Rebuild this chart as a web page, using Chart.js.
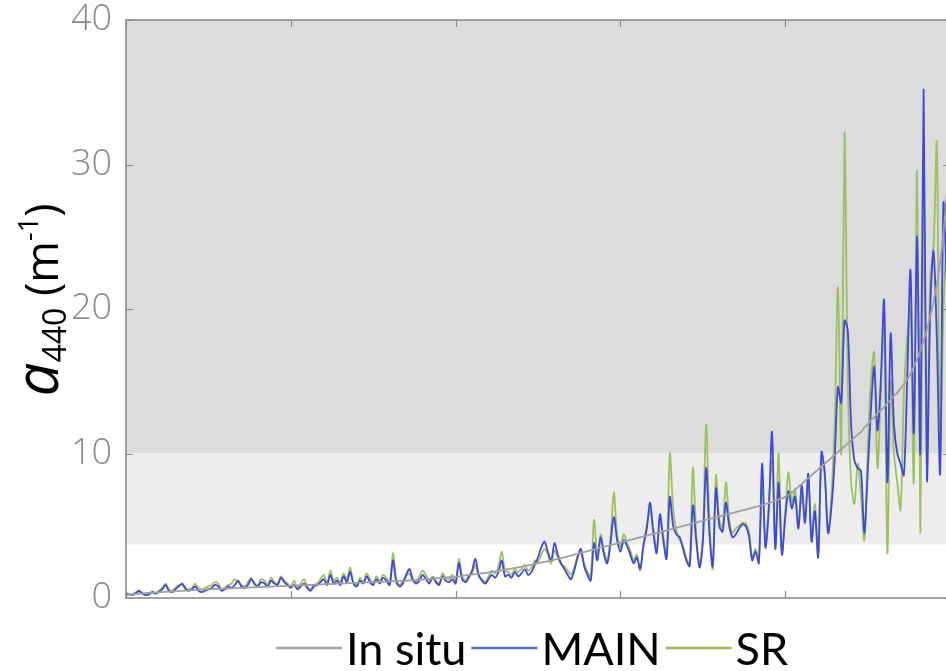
<!DOCTYPE html>
<html><head><meta charset="utf-8">
<script src="https://cdn.jsdelivr.net/npm/chart.js@4/dist/chart.umd.min.js"></script>
<style>html,body{margin:0;padding:0;background:#fff;overflow:hidden;width:946px;height:671px}
#wrap{position:relative;width:946px;height:671px;overflow:hidden}
canvas{display:block}</style></head>
<body><div id="wrap"><canvas id="c" width="956" height="671"></canvas></div>
<script>
// ---- data ----
const insitu = [
0.20,0.22,0.25,0.27,0.30,0.32,0.33,0.35,0.36,0.38,
0.40,0.41,0.43,0.44,0.45,0.47,0.48,0.50,0.51,0.52,
0.54,0.55,0.56,0.58,0.59,0.60,0.61,0.62,0.63,0.64,
0.65,0.66,0.67,0.68,0.69,0.70,0.71,0.72,0.73,0.74,
0.75,0.76,0.77,0.78,0.79,0.80,0.81,0.82,0.83,0.84,
0.85,0.86,0.87,0.88,0.89,0.90,0.91,0.92,0.93,0.94,
0.95,0.96,0.97,0.98,0.99,1.00,1.01,1.02,1.03,1.04,
1.05,1.06,1.07,1.08,1.09,1.10,1.11,1.12,1.13,1.14,
1.15,1.16,1.17,1.18,1.19,1.20,1.21,1.22,1.24,1.26,
1.28,1.30,1.32,1.34,1.36,1.38,1.40,1.42,1.44,1.46,
1.48,1.50,1.53,1.56,1.59,1.62,1.65,1.68,1.71,1.74,
1.77,1.80,1.84,1.88,1.92,1.96,2.00,2.04,2.08,2.12,
2.16,2.20,2.25,2.30,2.35,2.40,2.45,2.50,2.55,2.60,
2.65,2.70,2.76,2.82,2.88,2.94,3.00,3.06,3.12,3.18,
3.24,3.30,3.36,3.42,3.48,3.54,3.60,3.66,3.72,3.78,
3.84,3.90,3.96,4.02,4.08,4.14,4.20,4.26,4.32,4.38,
4.44,4.50,4.56,4.62,4.68,4.74,4.80,4.86,4.92,4.98,
5.04,5.10,5.16,5.22,5.28,5.34,5.40,5.46,5.52,5.58,
5.64,5.70,5.76,5.82,5.88,5.94,6.00,6.06,6.12,6.18,
6.24,6.30,6.36,6.42,6.50,6.58,6.66,6.74,6.82,6.90,
7.00,7.15,7.30,7.50,7.70,7.90,8.10,8.30,8.50,8.70,
8.90,9.10,9.30,9.50,9.70,9.90,10.1,10.3,10.5,10.7,
10.9,11.1,11.3,11.5,11.8,12.0,12.3,12.5,12.8,13.0,
13.2,13.5,13.7,14.0,14.2,14.5,14.8,15.1,15.5,16.0,
16.5,17.1,17.8,18.6,19.5,20.5,21.7,23.2,25.2,28.0
];
const mainSeries = [
0.3,0.25,0.2,0.35,0.5,0.3,0.2,0.25,0.4,0.3,
0.45,0.6,0.9,0.5,0.4,0.6,0.8,1.0,0.7,0.5,
0.6,0.8,0.5,0.4,0.5,0.6,0.7,0.9,0.8,0.5,
0.6,0.8,0.7,0.9,1.2,0.8,0.7,0.9,1.3,1.0,
0.8,1.1,1.0,0.8,1.2,1.0,0.9,1.4,1.1,0.9,
0.7,0.9,0.6,0.8,1.0,0.7,0.5,0.8,0.9,1.1,
1.3,0.9,1.6,1.0,1.2,0.9,1.5,1.1,1.8,1.0,
0.8,1.2,1.0,1.5,1.1,0.9,1.3,1.0,1.4,1.2,
0.9,2.6,1.1,0.8,1.0,1.6,2.0,1.3,1.0,1.2,
1.6,1.3,1.0,1.4,1.1,0.9,1.5,1.2,1.1,1.3,
1.0,2.4,1.3,1.1,1.4,1.9,2.7,1.6,1.2,1.0,
1.3,1.6,1.4,1.8,2.6,1.5,1.6,1.4,1.8,1.5,
1.7,2.0,1.6,1.8,2.3,2.8,3.5,3.9,3.2,2.6,
3.8,3.0,2.4,2.0,1.6,1.3,1.9,2.8,3.4,2.2,
1.6,1.2,3.8,2.6,4.2,3.0,2.4,3.8,5.6,4.0,
3.2,4.0,3.6,3.0,2.4,2.8,2.0,3.6,4.8,6.6,
4.5,3.1,5.8,4.0,2.7,7.0,5.0,4.4,4.2,3.4,
2.6,2.2,6.4,4.0,2.1,3.8,9.0,4.5,2.2,7.6,
5.0,4.6,6.6,5.0,4.2,4.4,4.8,5.1,5.0,4.3,
2.6,3.2,2.4,9.3,3.5,6.0,11.5,3.4,8.0,3.0,
5.5,7.4,6.2,7.0,4.8,7.8,5.2,8.6,3.9,6.0,
2.8,10.1,8.7,4.5,6.2,9.5,14.6,13.5,19.2,18.5,
12.0,9.5,9.0,8.8,4.5,8.5,13.0,16.0,11.6,15.0,
20.6,8.0,18.3,12.0,10.0,9.3,8.5,15.0,22.7,11.4,
25.0,10.0,35.2,8.2,20.0,24.0,18.0,8.6,27.3,22.0
];
const srSeries = [
0.35,0.2,0.25,0.4,0.45,0.35,0.25,0.3,0.45,0.3,
0.5,0.7,1.0,0.6,0.5,0.7,0.9,0.9,0.6,0.6,
0.7,1.0,0.7,0.6,0.7,0.8,0.9,1.1,1.0,0.6,
0.7,0.9,1.0,1.3,1.1,0.9,0.8,1.1,1.4,0.9,
0.9,1.3,1.2,0.9,1.4,1.1,1.0,1.5,1.2,1.0,
0.8,1.2,0.7,1.0,1.3,0.8,0.6,0.9,1.0,1.3,
1.6,1.0,1.9,1.2,1.4,1.1,1.7,1.3,2.1,1.1,
0.9,1.4,1.1,1.7,1.3,1.0,1.5,1.2,1.6,1.4,
1.0,3.1,1.3,0.9,1.2,1.5,1.7,1.2,1.1,1.5,
1.9,1.6,1.2,1.5,1.2,1.0,1.7,1.4,1.3,1.6,
1.1,2.7,1.5,1.2,1.6,1.7,2.3,1.5,1.3,1.1,
1.5,1.9,1.7,2.2,3.2,1.9,1.8,1.6,2.0,1.8,
2.0,2.3,1.9,2.1,2.6,2.5,3.0,3.4,3.0,2.4,
3.3,2.8,2.3,2.2,1.9,1.6,2.1,2.9,3.1,2.4,
1.8,1.5,5.4,3.0,4.4,3.3,2.6,4.2,7.3,4.4,
3.5,4.4,3.8,3.3,2.6,3.0,1.9,3.8,5.0,6.0,
4.8,3.3,5.4,4.3,2.9,10.0,6.2,4.6,4.0,3.6,
2.8,2.3,9.0,4.5,2.4,4.2,12.0,5.5,2.0,8.5,
5.4,4.9,8.0,5.5,4.5,4.8,5.0,5.2,5.2,4.6,
2.8,3.4,2.6,8.0,3.8,6.5,9.5,3.6,10.0,3.2,
6.0,8.7,6.6,7.5,5.0,7.0,5.5,8.2,4.2,6.5,
3.0,9.6,8.4,4.5,7.0,12.0,21.5,10.0,32.2,15.0,
8.0,6.5,9.3,7.0,4.0,10.0,15.0,17.0,9.0,14.0,
19.0,3.1,15.0,10.0,8.0,6.1,14.0,18.0,20.0,8.0,
29.6,4.5,28.0,9.0,22.0,24.3,31.5,10.0,20.0,25.0
];
const yTicks = [0, 10, 20, 30, 40];
const xTicks = [0, 50, 100, 150, 200, 250];
const bandLevels = [3.7, 10];
const legendLabels = ['In situ', 'MAIN', 'SR'];
const seriesColors = ['#a0a0a0', '#3f48d8', '#9dc15e'];
const legendColors = ['#a6a6a6', '#4472c4', '#9bbb59'];

const toXY = arr => arr.map((v, i) => ({x: i, y: v}));

const boxPlugin = {
  id: 'box',
  beforeDatasetsDraw(chart) {
    const {ctx, chartArea: a, scales: {y}} = chart;
    ctx.save();
    const y10 = y.getPixelForValue(bandLevels[1]);
    const y37 = y.getPixelForValue(bandLevels[0]);
    ctx.fillStyle = '#dcdcdc';
    ctx.fillRect(a.left, a.top, a.right - a.left, y10 - a.top);
    ctx.fillStyle = '#ededed';
    ctx.fillRect(a.left, y10, a.right - a.left, y37 - y10);
    ctx.restore();
  },
  afterDraw(chart) {
    const {ctx, chartArea: a, scales: {x, y}} = chart;
    ctx.save();
    ctx.strokeStyle = '#8c8c8c';
    ctx.lineWidth = 1.6;
    ctx.strokeRect(a.left, a.top, a.right - a.left, a.bottom - a.top);
    ctx.lineWidth = 1.2;
    ctx.beginPath();
    yTicks.forEach(v => {
      const py = Math.round(y.getPixelForValue(v)) + 0.5;
      ctx.moveTo(a.left, py); ctx.lineTo(a.left + 7, py);
      ctx.moveTo(a.right, py); ctx.lineTo(a.right - 7, py);
    });
    xTicks.forEach(v => {
      const px = Math.round(x.getPixelForValue(v)) + 0.5;
      ctx.moveTo(px, a.bottom); ctx.lineTo(px, a.bottom - 7);
      ctx.moveTo(px, a.top); ctx.lineTo(px, a.top + 7);
    });
    ctx.stroke();

    // y axis title a440 (m-1)
    ctx.translate(58, 300);
    ctx.rotate(-Math.PI / 2);
    ctx.fillStyle = '#000';
    ctx.textBaseline = 'alphabetic';
    const parts = [
      {t: 'a', f: 'italic 60px "Open Sans"', dy: 0},
      {t: '440', f: '32px "Open Sans"', dy: 8},
      {t: ' (m', f: '45px "Open Sans"', dy: 0},
      {t: '-1', f: '27px "Open Sans"', dy: -20},
      {t: ')', f: '45px "Open Sans"', dy: 0}
    ];
    let total = 0;
    parts.forEach(p => { ctx.font = p.f; p.w = ctx.measureText(p.t).width; total += p.w; });
    let tx = -total / 2;
    parts.forEach(p => { ctx.font = p.f; ctx.fillText(p.t, tx, p.dy); tx += p.w; });
    ctx.restore();

    // legend
    ctx.save();
    ctx.font = '45px Lato';
    ctx.textBaseline = 'alphabetic';
    let lx = 276;
    const ly = 665;
    legendLabels.forEach((lab, k) => {
      ctx.strokeStyle = legendColors[k];
      ctx.lineWidth = 2.5;
      ctx.beginPath();
      ctx.moveTo(lx, ly - 17); ctx.lineTo(lx + 66, ly - 17);
      ctx.stroke();
      lx += 70;
      ctx.fillStyle = '#000';
      ctx.fillText(lab, lx, ly);
      lx += ctx.measureText(lab).width + 5;
    });
    ctx.restore();
  }
};

new Chart(document.getElementById('c'), {
  type: 'line',
  data: {
    datasets: [
      {label: legendLabels[0], data: toXY(insitu), borderColor: seriesColors[0], borderWidth: 1.8, pointRadius: 0, tension: 0.3},
      {label: legendLabels[1], data: toXY(mainSeries), borderColor: seriesColors[1], borderWidth: 1.8, pointRadius: 0, tension: 0.3},
      {label: legendLabels[2], data: toXY(srSeries), borderColor: seriesColors[2], borderWidth: 1.8, pointRadius: 0, tension: 0.3}
    ]
  },
  options: {
    responsive: false,
    animation: false,
    layout: {padding: {top: 0, right: 6, left: 0, bottom: 0}},
    plugins: {legend: {display: false}, tooltip: {enabled: false}},
    scales: {
      x: {
        type: 'linear', min: 0, max: 250,
        ticks: {display: false, stepSize: 50},
        grid: {display: false}, border: {display: false},
        afterFit: s => { s.height = 73; }
      },
      y: {
        min: 0, max: 40,
        ticks: {stepSize: 10, color: '#8a8a8a', padding: 14, font: {family: '"Open Sans"', size: 36, weight: '300'}},
        grid: {display: false, drawTicks: false}, border: {display: false},
        afterFit: s => { s.width = 126; s.paddingTop = 20; s.paddingBottom = 0; }
      }
    }
  },
  plugins: [boxPlugin]
});
</script>
</body></html>
